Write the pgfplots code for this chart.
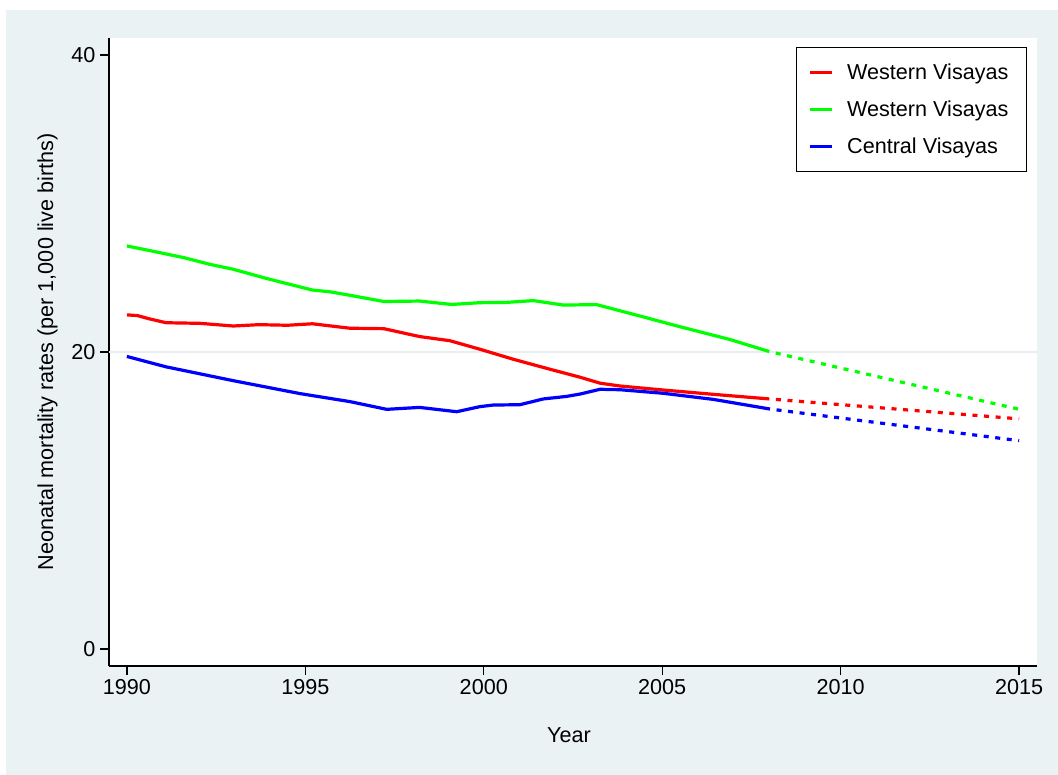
\documentclass[border=0pt]{standalone}
\usepackage{pgfplots}
\pgfplotsset{compat=1.18}
\usepackage{fontspec}
\setmainfont{Liberation Sans}
\definecolor{bgblue}{RGB}{234,242,243}
\definecolor{gridc}{RGB}{230,238,240}
\newcommand{\chartfont}{\fontsize{16.2}{19.4}\selectfont}

\begin{document}
\begin{tikzpicture}
\fill[white] (0,0) rectangle (793.5pt,581.25pt);
\fill[bgblue] (4.5pt,0) rectangle (793.5pt,573.75pt);
\path[use as bounding box] (0,0) rectangle (793.5pt,581.25pt);
\begin{axis}[
  at={(81.75pt,81.75pt)}, anchor=south west,
  scale only axis, width=696pt, height=471pt,
  xmin=1989.5, xmax=2015.5, ymin=-1.14, ymax=41.14,
  axis background/.style={fill=white},
  axis x line*=bottom, axis y line*=left,
  axis line style={-, line width=1pt, black},
  xtick={1990,1995,...,2015}, ytick={0,20,40},
  tick align=outside, major tick length=6.75pt,
  tick style={line width=1pt, black},
  minor tick num=0,
  tick label style={font=\chartfont},
  /pgf/number format/assume math mode=true,
  /pgf/number format/1000 sep={},
  extra y ticks={20}, extra y tick labels={},
  extra y tick style={grid=major, major tick length=0pt,
    major grid style={gridc, line width=1.2pt}},
  xlabel={Year}, ylabel={Neonatal mortality rates (per 1,000 live births)},
  every axis x label/.style={at={(axis description cs:0,0)}, anchor=base,
    xshift=345pt, yshift=-57.4pt, font=\chartfont},
  every axis y label/.style={at={(axis description cs:0,0.5)}, xshift=-46.1pt,
    rotate=90, anchor=center, font=\chartfont},
  legend style={at={(axis description cs:1,1)}, anchor=north east,
    xshift=-7.5pt, yshift=-6.75pt, draw=black, line width=0.75pt, fill=white,
    font=\chartfont, inner xsep=9pt, inner ysep=11.2pt, row sep=12.65pt,
    nodes={inner sep=0pt, text height=13pt, text depth=2.1pt},
    /tikz/every odd column/.append style={column sep=9.75pt}},
  legend cell align=left,
  legend image code/.code={\draw[#1, solid, line width=2.6pt] (0pt,0pt) -- (17pt,0pt);},
  every axis plot/.append style={line width=2.4pt, line join=round},
]
% observed estimates
\addplot[red] coordinates {
  (1990,22.50) (1990.3,22.45) (1990.6,22.25) (1991.1,21.97) (1992.05,21.93)
  (1992.98,21.75) (1993.7,21.84) (1994.5,21.80) (1995.2,21.90) (1996.25,21.60)
  (1997.2,21.57) (1998.2,21.04) (1999.05,20.76) (1999.9,20.18) (2000.83,19.51)
  (2001.76,18.90) (2002.7,18.30) (2003.26,17.90) (2003.82,17.71) (2005.03,17.44)
  (2006.43,17.15) (2008,16.84)};
\addlegendentry{\makebox[125.5pt][l]{Western Visayas}}
\addplot[green] coordinates {
  (1990,27.14) (1990.7,26.80) (1991.1,26.60) (1991.6,26.35) (1992.33,25.90)
  (1992.98,25.57) (1993.9,24.96) (1995.2,24.17) (1995.7,24.05) (1996.15,23.86)
  (1997.2,23.40) (1998.2,23.43) (1999.1,23.20) (1999.89,23.32) (2000.64,23.34)
  (2001.39,23.46) (2002.23,23.16) (2003.16,23.19) (2004.38,22.42) (2005.5,21.70)
  (2006.9,20.84) (2008,20.03)};
\addlegendentry{Western Visayas}
\addplot[blue] coordinates {
  (1990,19.70) (1991.1,19.00) (1992.98,18.07) (1994.85,17.20) (1996.25,16.66)
  (1997.28,16.14) (1998.2,16.27) (1999.24,15.98) (1999.89,16.32) (2000.27,16.43)
  (2001.01,16.45) (2001.67,16.84) (2002.32,17.01) (2002.7,17.17) (2003.26,17.49)
  (2003.82,17.46) (2005.03,17.22) (2006.43,16.81) (2008.02,16.16)};
\addlegendentry{Central Visayas}
% projections
\addplot[red, forget plot, line cap=butt, dash pattern=on 3.75pt off 4.95pt,
  dash phase=3.75pt] coordinates {(2008,16.84) (2015,15.50)};
\addplot[green, forget plot, line cap=butt, dash pattern=on 3.75pt off 4.95pt,
  dash phase=3.75pt] coordinates {(2008,20.03) (2015,16.14)};
\addplot[blue, forget plot, line cap=butt, dash pattern=on 3.75pt off 4.95pt,
  dash phase=3.75pt] coordinates {(2008.02,16.16) (2015,14.03)};
\end{axis}
\end{tikzpicture}
\end{document}
